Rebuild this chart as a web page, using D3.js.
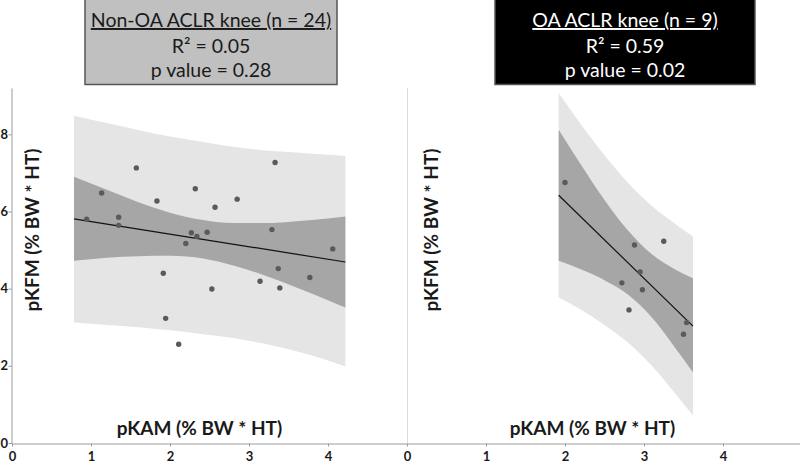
<!DOCTYPE html>
<html><head><meta charset="utf-8">
<script src="https://cdn.jsdelivr.net/npm/d3@7"></script>
<style>body{margin:0;background:#fff}svg{display:block}text{font-family:Lato,"Open Sans",sans-serif}</style>
</head><body>
<svg id="c" width="800" height="463"></svg>
<script>
// ---- data ----
const xTicks = [0, 1, 2, 3, 4];
const yTicks = [0, 2, 4, 6, 8];

// Non-OA ACLR knee (n = 24): pKAM, pKFM
const nonOAx = [0.945,1.135,1.574,1.35,1.35,1.835,1.915,1.945,2.11,2.32,2.27,2.34,2.20,2.47,2.57,2.53,2.85,3.33,3.29,3.14,3.37,3.39,3.77,4.06];
const nonOAy = [5.80,6.48,7.13,5.85,5.64,6.27,4.40,3.23,2.56,6.59,5.45,5.35,5.17,5.46,6.11,3.99,6.32,7.27,5.53,4.19,4.52,4.02,4.29,5.03];
const nonOAfitX = [0.785, 4.22];
const nonOAfitY = [5.81, 4.69];
const nonOAbandX = [0.785,1.2,1.6,2.0,2.42,2.8,3.2,3.6,4.0,4.22];
const nonOAciLo = [4.72,4.80,4.84,4.85,4.78,4.60,4.34,4.03,3.70,3.51];
const nonOAciHi = [6.90,6.56,6.24,5.97,5.78,5.70,5.70,5.75,5.82,5.87];
const nonOApiLo = [3.12,3.06,3.00,2.92,2.82,2.72,2.57,2.38,2.14,1.98];
const nonOApiHi = [8.48,8.29,8.11,7.94,7.80,7.68,7.58,7.53,7.47,7.44];

// OA ACLR knee (n = 9)
const oaX = [2.0,2.88,3.25,2.95,2.72,2.98,2.81,3.54,3.50];
const oaY = [6.75,5.13,5.23,4.43,4.15,3.97,3.45,3.12,2.82];
const oaFitX = [1.92, 3.62];
const oaFitY = [6.42, 3.03];
const oaBandX = [1.92,2.2,2.5,2.8,3.1,3.4,3.62];
const oaCiLo = [4.72,4.50,4.22,3.84,3.25,2.45,1.83];
const oaCiHi = [8.12,7.22,6.30,5.50,4.89,4.49,4.27];
const oaPiLo = [3.77,3.46,3.06,2.60,2.00,1.27,0.71];
const oaPiHi = [9.07,8.26,7.46,6.74,6.14,5.67,5.35];

const titles = [
  {lines:["Non-OA ACLR knee (n = 24)","R² = 0.05","p value = 0.28"], fill:"#c0c0c0", color:"#1a1a1a"},
  {lines:["OA ACLR knee (n = 9)","R² = 0.59","p value = 0.02"], fill:"#000000", color:"#ffffff"}
];
const xLabel = "pKAM (% BW * HT)";
const yLabel = "pKFM (% BW * HT)";

// ---- drawing ----
const svg = d3.select("#c");
const y = d3.scaleLinear().domain([0, 9.2]).range([443, 88]);
const xL = d3.scaleLinear().domain([0, 5]).range([12, 407]);
const xR = d3.scaleLinear().domain([0, 5]).range([407, 802]);

function panel(x, bx, lo2, hi2, lo1, hi1, fx, fy, px, py) {
  const g = svg.append("g");
  const idx = d3.range(bx.length);
  const area = (lo, hi) => d3.area().curve(d3.curveMonotoneX)
      .x(i => x(bx[i])).y0(i => y(lo[i])).y1(i => y(hi[i]))(idx);
  g.append("path").attr("d", area(lo2, hi2)).attr("fill", "#e5e5e5");
  g.append("path").attr("d", area(lo1, hi1)).attr("fill", "#a6a6a6");
  g.append("line").attr("x1", x(fx[0])).attr("x2", x(fx[1]))
    .attr("y1", y(fy[0])).attr("y2", y(fy[1])).attr("stroke", "#111").attr("stroke-width", 1.2);
  g.selectAll("circle").data(px).join("circle")
    .attr("cx", d => x(d)).attr("cy", (d, i) => y(py[i])).attr("r", 2.7).attr("fill", "#5a5a5a");
}
panel(xL, nonOAbandX, nonOApiLo, nonOApiHi, nonOAciLo, nonOAciHi, nonOAfitX, nonOAfitY, nonOAx, nonOAy);
panel(xR, oaBandX, oaPiLo, oaPiHi, oaCiLo, oaCiHi, oaFitX, oaFitY, oaX, oaY);

// right panel vertical separator
svg.append("line").attr("x1", 407.5).attr("x2", 407.5).attr("y1", 88).attr("y2", 443)
  .attr("stroke", "#dcdcdc").attr("stroke-width", 1);

// axes
function styleAxis(g) {
  g.selectAll("path,line").attr("stroke", "#9a9a9a");
  g.selectAll("text").attr("font-family", "Lato, sans-serif").attr("font-weight", "bold")
    .attr("font-size", 13).attr("fill", "#1a1a1a");
}
[xL, xR].forEach(x => {
  svg.append("g").attr("transform", "translate(0,443.5)")
    .call(d3.axisBottom(x).tickValues(xTicks).tickSize(3).tickSizeOuter(0).tickPadding(5).tickFormat(d3.format("d")))
    .call(styleAxis);
});
svg.append("line").attr("x1", 11).attr("x2", 12).attr("y1", 443.5).attr("y2", 443.5).attr("stroke", "#9a9a9a");
svg.append("g").attr("transform", "translate(11.5,0)")
  .call(d3.axisLeft(y).tickValues(yTicks).tickSize(3).tickSizeOuter(0).tickPadding(0.5).tickFormat(d3.format("d")))
  .call(styleAxis);

// axis titles
[[199.5, 435], [592.5, 435]].forEach(([cx, cy]) => {
  svg.append("text").attr("x", cx).attr("y", cy).attr("text-anchor", "middle")
    .attr("font-weight", "bold").attr("font-size", 19).attr("fill", "#1a1a1a").text(xLabel);
});
[[39, 230], [438, 230]].forEach(([cx, cy]) => {
  svg.append("text").attr("transform", `translate(${cx},${cy}) rotate(-90)`).attr("text-anchor", "middle")
    .attr("font-weight", "bold").attr("font-size", 19).attr("fill", "#1a1a1a").text(yLabel);
});

// title boxes
const boxes = [{x0: 85, x1: 337}, {x0: 495, x1: 755}];
titles.forEach((t, k) => {
  const b = boxes[k];
  svg.append("rect").attr("x", b.x0).attr("y", -2).attr("width", b.x1 - b.x0).attr("height", 86.5)
    .attr("fill", t.fill).attr("stroke", "#555").attr("stroke-width", 1.5);
  const cx = (b.x0 + b.x1) / 2;
  [27, 53, 77].forEach((by, i) => {
    svg.append("text").attr("x", cx).attr("y", by).attr("text-anchor", "middle")
      .attr("font-size", 19.5).attr("fill", t.color)
      .attr("text-decoration", i === 0 ? "underline" : null).text(t.lines[i]);
  });
});
</script>
</body></html>
